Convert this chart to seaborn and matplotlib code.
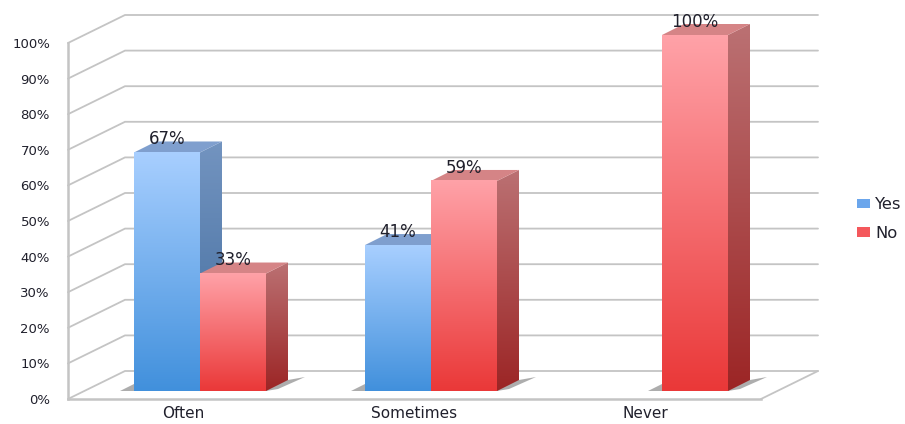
import numpy as np
import pandas as pd
import matplotlib
matplotlib.use("Agg")
import matplotlib.pyplot as plt
from matplotlib.colors import LinearSegmentedColormap
from matplotlib.patches import Polygon, Patch
import seaborn as sns

categories = ["Often", "Sometimes", "Never"]
series_names = ["Yes", "No"]
yes_values = [67, 41, 0]
no_values = [33, 59, 100]
y_ticks = [0, 10, 20, 30, 40, 50, 60, 70, 80, 90, 100]

W, H = 905, 424
TEXT = "#20202c"
GRID = "#c4c4c4"
FRONT = {"Yes": ("#4190dc", "#a8cfff"), "No": ("#ea3838", "#ffa2a8")}
SIDE = {"Yes": ("#3f6a9c", "#7394c0"), "No": ("#9c2525", "#bb7173")}
TOP = {"Yes": "#7f9fce", "No": "#d58486"}
LEG = {"Yes": "#6ba6ec", "No": "#f4585c"}

sns.set_theme(style="white")
plt.rcParams["font.family"] = ["DejaVu Sans"]

df = pd.DataFrame({
    "category": categories * 2,
    "series": ["Yes"] * 3 + ["No"] * 3,
    "value": yes_values + no_values,
})

fig = plt.figure(figsize=(W / 100, H / 100), dpi=100, facecolor="white")

# front plane of the chart box: carries the axis labels and the walls
wall = fig.add_axes([68 / W, (H - 399) / H, 693 / W, 356 / H], zorder=1)
# plane the bars stand on, set into the box
ax = fig.add_axes([84.5 / W, (H - 391) / H, 693 / W, 356 / H], zorder=2)
ax.patch.set_visible(False)

PX_X = 3 / 693      # data units per pixel, horizontally
PX_Y = 100 / 356    # data units per pixel, vertically

# walls
wall.set_xlim(-0.5, 2.5)
wall.set_ylim(0, 100)
back_dx, back_dy = 57 * PX_X, 28 * PX_Y
for v in y_ticks:
    wall.plot([-0.5, -0.5 + back_dx, 2.5 + back_dx], [v, v + back_dy, v + back_dy],
              color=GRID, lw=1.3, clip_on=False, solid_joinstyle="miter", zorder=1)
wall.plot([2.5, 2.5 + back_dx], [0, back_dy], color=GRID, lw=1.3, clip_on=False, zorder=1)
for name in ["top", "right"]:
    wall.spines[name].set_visible(False)
for name in ["left", "bottom"]:
    wall.spines[name].set_color(GRID)
    wall.spines[name].set_linewidth(1.8)
wall.set_xticks(range(len(categories)), categories, fontsize=11, color=TEXT)
wall.set_yticks(y_ticks, [f"{v}%" for v in y_ticks], fontsize=9.5, color=TEXT)
wall.tick_params(axis="x", length=0, pad=5)
wall.tick_params(axis="y", length=0, pad=13)

# bars
sns.barplot(data=df, x="category", y="value", hue="series", order=categories,
            hue_order=series_names, palette=LEG, width=2 * 66 / 231, gap=0,
            saturation=1, legend=False, ax=ax, linewidth=0)
ax.set_xlabel("")
ax.set_ylabel("")
ax.set_xticks([])
ax.set_yticks([])
for s in ax.spines.values():
    s.set_visible(False)

dx, dy = 22 * PX_X, 11 * PX_Y
grad = np.linspace(0, 1, 256).reshape(-1, 1)
for name, container in zip(series_names, ax.containers):
    front_cmap = LinearSegmentedColormap.from_list("f", FRONT[name])
    side_cmap = LinearSegmentedColormap.from_list("s", SIDE[name])
    for bar in container:
        h = bar.get_height()
        if h <= 0:
            bar.set_visible(False)
            continue
        x0, x1 = bar.get_x(), bar.get_x() + bar.get_width()
        # floor shadow
        ax.add_patch(Polygon([(x0 - 14 * PX_X, 0), (x0, 7 * PX_Y), (x1 + dx, dy),
                              (x1 + 39 * PX_X, 14 * PX_Y), (x1 + 12 * PX_X, 2 * PX_Y),
                              (x1, 0)],
                     closed=True, fc="#777777", ec="none", alpha=0.6,
                     zorder=1, clip_on=False))
        # right side face
        side = Polygon([(x1, 0), (x1, h), (x1 + dx, h + dy), (x1 + dx, dy)],
                       closed=True, fc="none", ec="none", zorder=2, clip_on=False)
        ax.add_patch(side)
        im = ax.imshow(grad, extent=(x1, x1 + dx, 0, h + dy), origin="lower",
                       aspect="auto", cmap=side_cmap, zorder=2)
        im.set_clip_box(fig.bbox)
        im.set_clip_path(side)
        # top face
        ax.add_patch(Polygon([(x0, h), (x1, h), (x1 + dx, h + dy), (x0 + dx, h + dy)],
                     closed=True, fc=TOP[name], ec="none", zorder=2, clip_on=False))
        # front face
        bar.set_zorder(3)
        ax.imshow(grad, extent=(x0, x1, 0, h), origin="lower", aspect="auto",
                  cmap=front_cmap, zorder=3.1)
ax.set_xlim(-0.5, 2.5)
ax.set_ylim(0, 100)

for name, container, values in zip(series_names, ax.containers, [yes_values, no_values]):
    ax.bar_label(container, labels=[f"{v}%" if v > 0 else "" for v in values],
                 padding=3, fontsize=12, color=TEXT, zorder=5)

handles = [Patch(facecolor=LEG[n], edgecolor="none", label=n) for n in series_names]
fig.legend(handles=handles, loc="upper left", bbox_to_anchor=(857 / W, 1 - 197 / H),
           frameon=False, fontsize=11.8, labelcolor=TEXT, handlelength=0.8,
           handleheight=0.5, handletextpad=0.32, labelspacing=0.85,
           borderpad=0, borderaxespad=0)

fig.savefig("out.png", dpi=100, facecolor="white")
